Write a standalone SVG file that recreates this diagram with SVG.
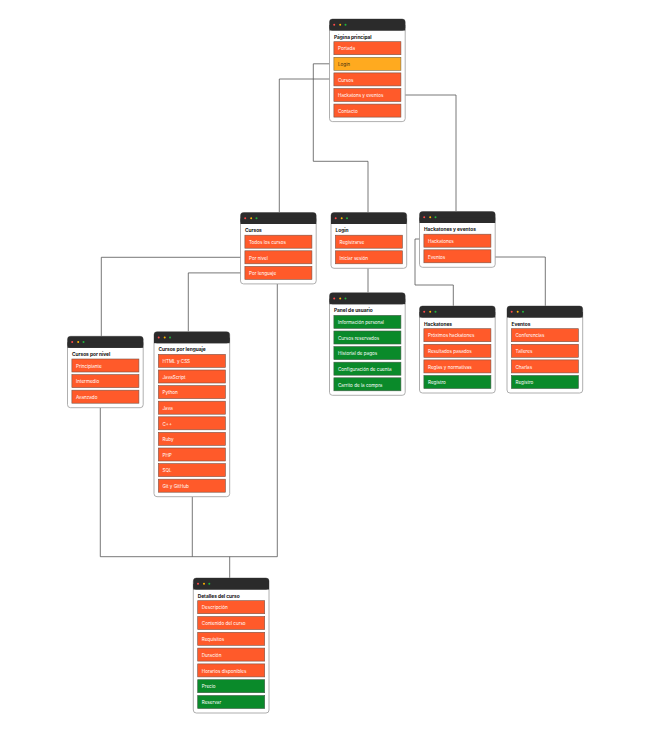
<svg xmlns="http://www.w3.org/2000/svg" width="670" height="735" viewBox="0 0 670 735">
<style>
.bg{fill:#ffffff}
.nd{fill:#ffffff;stroke:#9a9a9a;stroke-width:0.8}
.hd{fill:#2b2b2b}
.dr{fill:#ff4a4a}.dy{fill:#ffb300}.dg{fill:#1fb43c}
.io{fill:#ff5a2a;stroke:#7b5244;stroke-width:0.6}
.iy{fill:#ffaa1f;stroke:#7b6a44;stroke-width:0.6}
.ig{fill:#0a8a2a;stroke:#3f5a44;stroke-width:0.6}
.tt{font-family:Inter,"Liberation Sans",sans-serif;font-size:4.8px;font-weight:700;fill:#111}
.it{font-family:Inter,"Liberation Sans",sans-serif;font-size:4.6px;fill:#ffffff}
.itd{font-family:Inter,"Liberation Sans",sans-serif;font-size:4.6px;fill:#3a2a10}
.cn{fill:none;stroke:#555;stroke-width:0.8}
</style>
<rect class="bg" x="0" y="0" width="670" height="735"/>
<g id="connectors">
<path class="cn" d="M333.9,63.8 H313.3 V161.3 H368 V212.5"/>
<path class="cn" d="M333.9,79 H279.3 V212.5"/>
<path class="cn" d="M400.9,95 H456 V211.5"/>
<path class="cn" d="M244.9,257.3 H101.3 V336.3"/>
<path class="cn" d="M244.9,272.9 H188.3 V331.7"/>
<path class="cn" d="M368,268.3 V292.7"/>
<path class="cn" d="M423.9,239 H415 V285 H453.3 V306"/>
<path class="cn" d="M490.9,257 H545.3 V306"/>
<path class="cn" d="M100.3,407.7 V556.7"/>
<path class="cn" d="M192.3,496.7 V556.7"/>
<path class="cn" d="M277.3,283.9 V556.7"/>
<path class="cn" d="M100.3,556.7 H277.3"/>
<path class="cn" d="M229.7,556.7 V578"/>
</g>

<g id="pagina-principal">
<rect class="nd" x="329.5" y="19" width="75.7" height="102.6" rx="3"/>
<rect class="hd" x="329.5" y="19" width="75.7" height="11.5" rx="3"/>
<rect class="hd" x="329.5" y="25" width="75.7" height="5.5"/>
<circle class="dr" cx="334.2" cy="24.8" r="1"/><circle class="dy" cx="340.2" cy="24.8" r="1"/><circle class="dg" cx="345.5" cy="24.8" r="1"/>
<text class="tt" x="334" y="39">Página principal</text>
<rect class="io" x="333.9" y="41.7" width="67" height="13"/><text class="it" x="338" y="50.4">Portada</text>
<rect class="iy" x="333.9" y="57.3" width="67" height="13"/><text class="itd" x="338" y="66">Login</text>
<rect class="io" x="333.9" y="72.9" width="67" height="13"/><text class="it" x="338" y="81.6">Cursos</text>
<rect class="io" x="333.9" y="88.5" width="67" height="13"/><text class="it" x="338" y="97.2">Hackatons y eventos</text>
<rect class="io" x="333.9" y="104.1" width="67" height="13"/><text class="it" x="338" y="112.8">Contacto</text>
</g>

<g id="cursos">
<rect class="nd" x="240.5" y="212.5" width="75.7" height="71.4" rx="3"/>
<rect class="hd" x="240.5" y="212.5" width="75.7" height="11.5" rx="3"/>
<rect class="hd" x="240.5" y="218.5" width="75.7" height="5.5"/>
<circle class="dr" cx="245.2" cy="218.3" r="1"/><circle class="dy" cx="251.2" cy="218.3" r="1"/><circle class="dg" cx="256.5" cy="218.3" r="1"/>
<text class="tt" x="245" y="232">Cursos</text>
<rect class="io" x="244.9" y="235.2" width="67" height="13"/><text class="it" x="249" y="243.9">Todos los cursos</text>
<rect class="io" x="244.9" y="250.8" width="67" height="13"/><text class="it" x="249" y="259.5">Por nivel</text>
<rect class="io" x="244.9" y="266.4" width="67" height="13"/><text class="it" x="249" y="275.1">Por lenguaje</text>
</g>

<g id="login">
<rect class="nd" x="331" y="212.5" width="75.7" height="55.8" rx="3"/>
<rect class="hd" x="331" y="212.5" width="75.7" height="11.5" rx="3"/>
<rect class="hd" x="331" y="218.5" width="75.7" height="5.5"/>
<circle class="dr" cx="335.7" cy="218.3" r="1"/><circle class="dy" cx="341.7" cy="218.3" r="1"/><circle class="dg" cx="347" cy="218.3" r="1"/>
<text class="tt" x="335.5" y="232">Login</text>
<rect class="io" x="335.4" y="235.2" width="67" height="13"/><text class="it" x="339.5" y="243.9">Registrarse</text>
<rect class="io" x="335.4" y="250.8" width="67" height="13"/><text class="it" x="339.5" y="259.5">Iniciar sesión</text>
</g>

<g id="hackatones-y-eventos">
<rect class="nd" x="419.5" y="211.5" width="75.7" height="55.8" rx="3"/>
<rect class="hd" x="419.5" y="211.5" width="75.7" height="11.5" rx="3"/>
<rect class="hd" x="419.5" y="217.5" width="75.7" height="5.5"/>
<circle class="dr" cx="424.2" cy="217.3" r="1"/><circle class="dy" cx="430.2" cy="217.3" r="1"/><circle class="dg" cx="435.5" cy="217.3" r="1"/>
<text class="tt" x="424" y="231">Hackatones y eventos</text>
<rect class="io" x="423.9" y="234.2" width="67" height="13"/><text class="it" x="428" y="242.9">Hackatones</text>
<rect class="io" x="423.9" y="249.8" width="67" height="13"/><text class="it" x="428" y="258.5">Eventos</text>
</g>

<g id="panel-de-usuario">
<rect class="nd" x="329.5" y="292.7" width="75.7" height="102.6" rx="3"/>
<rect class="hd" x="329.5" y="292.7" width="75.7" height="11.5" rx="3"/>
<rect class="hd" x="329.5" y="298.7" width="75.7" height="5.5"/>
<circle class="dr" cx="334.2" cy="298.5" r="1"/><circle class="dy" cx="340.2" cy="298.5" r="1"/><circle class="dg" cx="345.5" cy="298.5" r="1"/>
<text class="tt" x="334" y="312.2">Panel de usuario</text>
<rect class="ig" x="333.9" y="315.4" width="67" height="13"/><text class="it" x="338" y="324.1">Información personal</text>
<rect class="ig" x="333.9" y="331" width="67" height="13"/><text class="it" x="338" y="339.7">Cursos reservados</text>
<rect class="ig" x="333.9" y="346.6" width="67" height="13"/><text class="it" x="338" y="355.3">Historial de pagos</text>
<rect class="ig" x="333.9" y="362.2" width="67" height="13"/><text class="it" x="338" y="370.9">Configuración de cuenta</text>
<rect class="ig" x="333.9" y="377.8" width="67" height="13"/><text class="it" x="338" y="386.5">Carrito de la compra</text>
</g>

<g id="hackatones">
<rect class="nd" x="419.5" y="306" width="75.7" height="87" rx="3"/>
<rect class="hd" x="419.5" y="306" width="75.7" height="11.5" rx="3"/>
<rect class="hd" x="419.5" y="312" width="75.7" height="5.5"/>
<circle class="dr" cx="424.2" cy="311.8" r="1"/><circle class="dy" cx="430.2" cy="311.8" r="1"/><circle class="dg" cx="435.5" cy="311.8" r="1"/>
<text class="tt" x="424" y="325.5">Hackatones</text>
<rect class="io" x="423.9" y="328.7" width="67" height="13"/><text class="it" x="428" y="337.4">Próximos hackatones</text>
<rect class="io" x="423.9" y="344.3" width="67" height="13"/><text class="it" x="428" y="353">Resultados pasados</text>
<rect class="io" x="423.9" y="359.9" width="67" height="13"/><text class="it" x="428" y="368.6">Reglas y normativas</text>
<rect class="ig" x="423.9" y="375.5" width="67" height="13"/><text class="it" x="428" y="384.2">Registro</text>
</g>

<g id="eventos">
<rect class="nd" x="507" y="306" width="75.7" height="87" rx="3"/>
<rect class="hd" x="507" y="306" width="75.7" height="11.5" rx="3"/>
<rect class="hd" x="507" y="312" width="75.7" height="5.5"/>
<circle class="dr" cx="511.7" cy="311.8" r="1"/><circle class="dy" cx="517.7" cy="311.8" r="1"/><circle class="dg" cx="523" cy="311.8" r="1"/>
<text class="tt" x="511.5" y="325.5">Eventos</text>
<rect class="io" x="511.4" y="328.7" width="67" height="13"/><text class="it" x="515.5" y="337.4">Conferencias</text>
<rect class="io" x="511.4" y="344.3" width="67" height="13"/><text class="it" x="515.5" y="353">Talleres</text>
<rect class="io" x="511.4" y="359.9" width="67" height="13"/><text class="it" x="515.5" y="368.6">Charlas</text>
<rect class="ig" x="511.4" y="375.5" width="67" height="13"/><text class="it" x="515.5" y="384.2">Registro</text>
</g>

<g id="cursos-por-nivel">
<rect class="nd" x="67.5" y="336.3" width="75.7" height="71.4" rx="3"/>
<rect class="hd" x="67.5" y="336.3" width="75.7" height="11.5" rx="3"/>
<rect class="hd" x="67.5" y="342.3" width="75.7" height="5.5"/>
<circle class="dr" cx="72.2" cy="342.1" r="1"/><circle class="dy" cx="78.2" cy="342.1" r="1"/><circle class="dg" cx="83.5" cy="342.1" r="1"/>
<text class="tt" x="72" y="355.8">Cursos por nivel</text>
<rect class="io" x="71.9" y="359" width="67" height="13"/><text class="it" x="76" y="367.7">Principiante</text>
<rect class="io" x="71.9" y="374.6" width="67" height="13"/><text class="it" x="76" y="383.3">Intermedio</text>
<rect class="io" x="71.9" y="390.2" width="67" height="13"/><text class="it" x="76" y="398.9">Avanzado</text>
</g>

<g id="cursos-por-lenguaje">
<rect class="nd" x="154" y="331.7" width="75.7" height="165" rx="3"/>
<rect class="hd" x="154" y="331.7" width="75.7" height="11.5" rx="3"/>
<rect class="hd" x="154" y="337.7" width="75.7" height="5.5"/>
<circle class="dr" cx="158.7" cy="337.5" r="1"/><circle class="dy" cx="164.7" cy="337.5" r="1"/><circle class="dg" cx="170" cy="337.5" r="1"/>
<text class="tt" x="158.5" y="351.2">Cursos por lenguaje</text>
<rect class="io" x="158.4" y="354.4" width="67" height="13"/><text class="it" x="162.5" y="363.1">HTML y CSS</text>
<rect class="io" x="158.4" y="370" width="67" height="13"/><text class="it" x="162.5" y="378.7">JavaScript</text>
<rect class="io" x="158.4" y="385.6" width="67" height="13"/><text class="it" x="162.5" y="394.3">Python</text>
<rect class="io" x="158.4" y="401.2" width="67" height="13"/><text class="it" x="162.5" y="409.9">Java</text>
<rect class="io" x="158.4" y="416.8" width="67" height="13"/><text class="it" x="162.5" y="425.5">C++</text>
<rect class="io" x="158.4" y="432.4" width="67" height="13"/><text class="it" x="162.5" y="441.1">Ruby</text>
<rect class="io" x="158.4" y="448" width="67" height="13"/><text class="it" x="162.5" y="456.7">PHP</text>
<rect class="io" x="158.4" y="463.6" width="67" height="13"/><text class="it" x="162.5" y="472.3">SQL</text>
<rect class="io" x="158.4" y="479.2" width="67" height="13"/><text class="it" x="162.5" y="487.9">Git y GitHub</text>
</g>

<g id="detalles-del-curso">
<rect class="nd" x="193.3" y="578" width="75.7" height="135" rx="3"/>
<rect class="hd" x="193.3" y="578" width="75.7" height="11.5" rx="3"/>
<rect class="hd" x="193.3" y="584" width="75.7" height="5.5"/>
<circle class="dr" cx="198" cy="583.8" r="1"/><circle class="dy" cx="204" cy="583.8" r="1"/><circle class="dg" cx="209.3" cy="583.8" r="1"/>
<text class="tt" x="197.8" y="597.5">Detalles del curso</text>
<rect class="io" x="197.7" y="600.7" width="67" height="13"/><text class="it" x="201.8" y="609.4">Descripción</text>
<rect class="io" x="197.7" y="616.5" width="67" height="13"/><text class="it" x="201.8" y="625.2">Contenido del curso</text>
<rect class="io" x="197.7" y="632.3" width="67" height="13"/><text class="it" x="201.8" y="641">Requisitos</text>
<rect class="io" x="197.7" y="648.1" width="67" height="13"/><text class="it" x="201.8" y="656.8">Duración</text>
<rect class="io" x="197.7" y="663.9" width="67" height="13"/><text class="it" x="201.8" y="672.6">Horarios disponibles</text>
<rect class="ig" x="197.7" y="679.7" width="67" height="13"/><text class="it" x="201.8" y="688.4">Precio</text>
<rect class="ig" x="197.7" y="695.5" width="67" height="13"/><text class="it" x="201.8" y="704.2">Reservar</text>
</g>
</svg>
